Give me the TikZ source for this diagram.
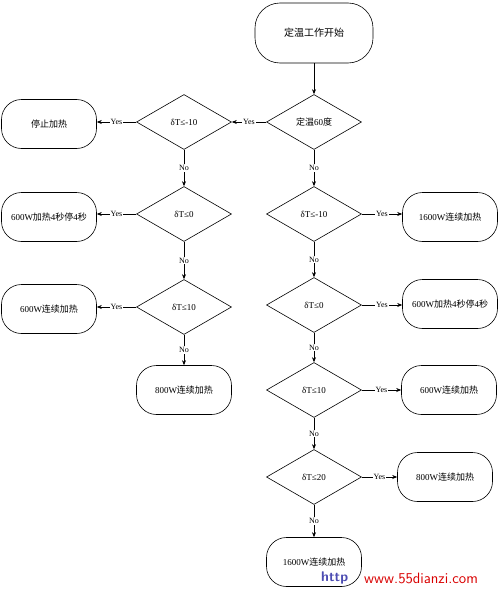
\documentclass[tikz,border=0pt]{standalone}
\usepackage{fontspec}
\setmainfont{Liberation Serif}
\newfontfamily\cjk{Noto Sans CJK SC}
\newcommand\zh[1]{{\cjk #1}}
\usetikzlibrary{shapes.geometric,arrows.meta}
\begin{document}
\begin{tikzpicture}[x=1pt,y=-1pt,
  every node/.style={font=\fontsize{9}{10}\selectfont},
  term/.style={draw,rectangle,rounded corners=20pt,minimum width=95pt,minimum height=49pt,inner sep=0pt,line width=0.6pt},
  dec/.style={draw,diamond,minimum width=95pt,minimum height=55pt,inner sep=0pt,line width=0.6pt},
  arr/.style={-{Stealth[length=5pt,width=4pt]},line width=0.6pt},
  lab/.style={fill=white,inner sep=1pt,font=\fontsize{8}{9}\selectfont}]
\useasboundingbox (0,0) rectangle (500,589);
% nodes
\node[term,minimum width=118pt,minimum height=60pt,rounded corners=25pt,font=\fontsize{10}{11}\selectfont] (start) at (314,33) {\zh{定温工作开始}};
\node[dec] (d0) at (314,122) {\zh{定温}60\zh{度}};
\node[dec] (dL1) at (184,122) {δT≤-10};
\node[term] (stop) at (49,124) {\zh{停止加热}};
\node[dec] (dL2) at (184,214) {δT≤0};
\node[term] (bL2) at (49,217) {600W\zh{加热}4\zh{秒停}4\zh{秒}};
\node[dec] (dL3) at (184,307) {δT≤10};
\node[term] (bL3) at (49,309) {600W\zh{连续加热}};
\node[term] (bL4) at (184,390) {800W\zh{连续加热}};
\node[dec] (dR1) at (314,214) {δT≤-10};
\node[term] (bR1) at (450,217) {1600W\zh{连续加热}};
\node[dec] (dR2) at (314,305) {δT≤0};
\node[term] (bR2) at (450,304) {600W\zh{加热}4\zh{秒停}4\zh{秒}};
\node[dec] (dR3) at (314,390) {δT≤10};
\node[term] (bR3) at (449,390) {600W\zh{连续加热}};
\node[dec] (dR4) at (314,477) {δT≤20};
\node[term] (bR4) at (445,477) {800W\zh{连续加热}};
\node[term] (bR5) at (314,562) {1600W\zh{连续加热}};
% connectors
\draw[arr] (start) -- (d0);
\draw[arr] (d0.west) -- node[lab] {Yes} (dL1.east);
\draw[arr] (dL1.west) -- node[lab] {Yes} (dL1.west -| stop.east);
\draw[arr] (dL1.south) -- node[lab] {No} (dL2.north);
\draw[arr] (dL2.west) -- node[lab] {Yes} (dL2.west -| bL2.east);
\draw[arr] (dL2.south) -- node[lab] {No} (dL3.north);
\draw[arr] (dL3.west) -- node[lab] {Yes} (dL3.west -| bL3.east);
\draw[arr] (dL3.south) -- node[lab] {No} (bL4.north);
\draw[arr] (d0.south) -- node[lab] {No} (dR1.north);
\draw[arr] (dR1.east) -- node[lab] {Yes} (dR1.east -| bR1.west);
\draw[arr] (dR1.south) -- node[lab] {No} (dR2.north);
\draw[arr] (dR2.east) -- node[lab] {Yes} (dR2.east -| bR2.west);
\draw[arr] (dR2.south) -- node[lab] {No} (dR3.north);
\draw[arr] (dR3.east) -- node[lab] {Yes} (dR3.east -| bR3.west);
\draw[arr] (dR3.south) -- node[lab] {No} (dR4.north);
\draw[arr] (dR4.east) -- node[lab] {Yes} (dR4.east -| bR4.west);
\draw[arr] (dR4.south) -- node[lab] {No} (bR5.north);
% watermark
\node[font=\sffamily\bfseries\fontsize{14}{14}\selectfont,text=blue!40!gray,anchor=west,inner sep=0pt] (wm1) at (321,578) {http};
\node[font=\sffamily\fontsize{15}{15}\selectfont,text=red!85!black,anchor=west,inner sep=0pt] (wm2) at (364,578) {www.55dianzi.com};
\end{tikzpicture}
\end{document}
